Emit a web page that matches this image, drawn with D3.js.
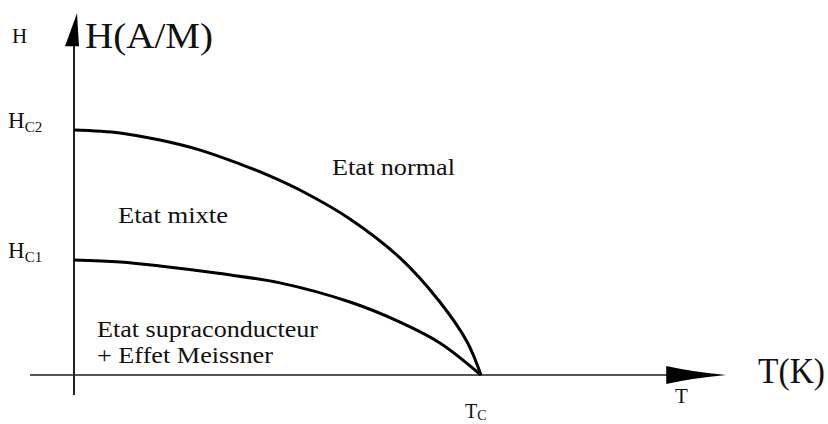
<!DOCTYPE html>
<html>
<head>
<meta charset="utf-8">
<script src="https://cdn.jsdelivr.net/npm/d3@7"></script>
<style>
  body { margin: 0; background: #fff; }
  text { font-family: "Liberation Serif", "DejaVu Serif", serif; fill: #111; }
</style>
</head>
<body>
<script>
// reduced temperature T/Tc and field H/Hc2(0)
var tUpper = [0, 0.113, 0.211, 0.310, 0.408, 0.482, 0.555, 0.678, 0.801, 0.899, 0.966, 1];
var hUpper = [1, 0.988, 0.959, 0.918, 0.861, 0.812, 0.755, 0.637, 0.478, 0.298, 0.135, 0];
var tLower = [0, 0.113, 0.211, 0.359, 0.506, 0.678, 0.801, 0.899, 1];
var hLower = [0.469, 0.461, 0.445, 0.414, 0.376, 0.298, 0.216, 0.131, 0];

var hTicks = [{v: 1, main: "H", sub: "C2"}, {v: 0.469, main: "H", sub: "C1"}];
var tTicks = [{v: 1, main: "T", sub: "C"}];

var W = 828, H = 424;
var svg = d3.select("body").append("svg").attr("width", W).attr("height", H);

var x = d3.scaleLinear().domain([0, 1]).range([74, 481]);
var y = d3.scaleLinear().domain([0, 1]).range([375, 130]);

// axes
svg.append("line")
	.attr("x1", x(-0.108)).attr("x2", x(1.46))
	.attr("y1", y(0)).attr("y2", y(0))
	.attr("stroke", "#555").attr("stroke-width", 2);
svg.append("line")
	.attr("x1", x(0)).attr("x2", x(0))
	.attr("y1", y(-0.082)).attr("y2", y(1.35))
	.attr("stroke", "#222").attr("stroke-width", 2);

// arrow heads
var ax = x(1.46), ay = y(0);
svg.append("path")
	.attr("d", "M" + (ax - 2) + "," + (ay - 9) + " Q" + (ax + 25) + "," + (ay - 3) + " " + (ax + 58) + "," + ay
		+ " Q" + (ax + 25) + "," + (ay + 3) + " " + (ax - 2) + "," + (ay + 9) + "Z")
	.attr("fill", "#000");
var bx = x(0), by = y(1.35);
svg.append("path")
	.attr("d", "M" + (bx - 9) + "," + (by + 2) + " L" + (bx + 3) + "," + (by - 31) + " L" + (bx + 5) + "," + (by + 2) + "Z")
	.attr("fill", "#000");

// curves
var line = d3.line()
	.x(function(d){ return x(d[0]); })
	.y(function(d){ return y(d[1]); })
	.curve(d3.curveCatmullRom.alpha(0.5));

svg.append("path")
	.attr("d", line(d3.zip(tUpper, hUpper)))
	.attr("fill", "none").attr("stroke", "#000").attr("stroke-width", 3);
svg.append("path")
	.attr("d", line(d3.zip(tLower, hLower)))
	.attr("fill", "none").attr("stroke", "#000").attr("stroke-width", 3);

// tick labels with subscripts
hTicks.forEach(function(t){
	var tx = svg.append("text").attr("x", 8).attr("y", y(t.v) - 2).style("font-size", "23px");
	tx.append("tspan").text(t.main);
	tx.append("tspan").attr("dy", 4).style("font-size", "15px").text(t.sub);
});
tTicks.forEach(function(t){
	var tx = svg.append("text").attr("x", x(t.v) - 16).attr("y", 418).style("font-size", "20px");
	tx.append("tspan").text(t.main);
	tx.append("tspan").attr("dy", 2).style("font-size", "14px").text(t.sub);
});

// axis titles
function label(txt, px, py, size, len) {
	var t = svg.append("text").attr("x", px).attr("y", py).style("font-size", size + "px").text(txt);
	if (len) t.attr("textLength", len).attr("lengthAdjust", "spacingAndGlyphs");
	return t;
}
label("H", 12, 43, 21);
label("H(A/M)", 85, 48, 36, 128);
label("T", 675, 403, 21);
label("T(K)", 758, 383, 35, 67);

// region labels
label("Etat normal", 332, 175, 23, 123);
label("Etat mixte", 118, 223, 23, 110);
label("Etat supraconducteur", 97, 337, 23, 221);
label("+ Effet Meissner", 97, 363, 23, 176);
</script>
</body>
</html>
